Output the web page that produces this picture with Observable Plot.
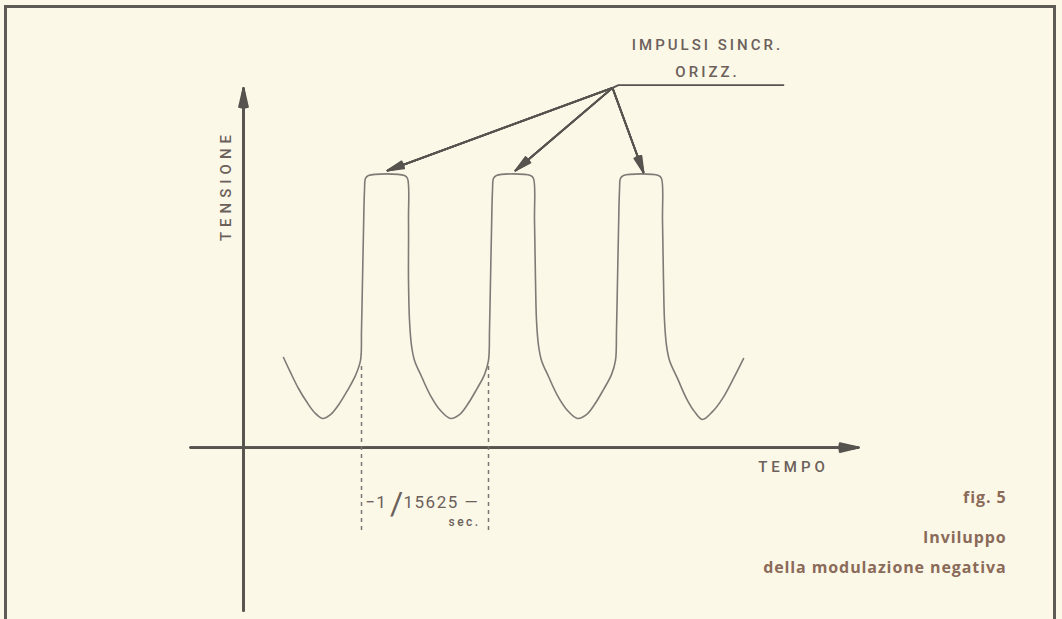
<!DOCTYPE html>
<html>
<head>
<meta charset="utf-8">
<script src="https://cdn.jsdelivr.net/npm/d3@7"></script>
<script src="https://cdn.jsdelivr.net/npm/@observablehq/plot@0.6"></script>
<style>
  html, body { margin: 0; padding: 0; background: #fcf8e8; }
  #wrap { position: relative; width: 1062px; height: 619px; overflow: hidden; }
  #frame { position: absolute; left: 4px; top: 5px; width: 1052px; height: 640px;
           border-top: 3px solid #5e5a56; border-left: 3px solid #5e5a56; border-right: 3px solid #5e5a56;
           box-sizing: border-box; pointer-events: none; }
</style>
</head>
<body>
<div id="wrap"><div id="frame"></div></div>
<script>
// time in microseconds (period 1/15625 s = 64 µs), voltage in arbitrary units (sync tip = 100)
const waveT = [20,23.5,27.5,31.5,35.5,39.5,43.5,48,52,56,58.5,59,59.5,60,60.5,61,62.5,80.5,82,82.5,82.5,83,84,85.5,89,93.5,98.5,103.5,108,112,116.5,120.5,122.5,123,123.5,124,124.5,125,126.5,143.5,145,145.5,146,146.5,147.5,149,152.5,157,162,167,171.5,175.5,180,184,186,186.5,187,187.5,188,188.5,190,207.5,209,209.5,210,210.5,211.5,213,217,221.5,225.5,229.5,234.5,239.5,245,250];
const waveV = [33.1,27.6,21.7,16.9,12.9,10.7,12.1,16.2,21.0,26.5,32.0,43.0,61.4,79.8,94.5,98.9,100,100,98.9,83.5,61.4,46.7,37.5,32.0,26.1,19.1,13.6,10.7,12.1,15.8,21.3,26.8,32.0,43.0,61.4,79.8,94.5,98.9,100,100,98.9,83.5,61.4,46.7,37.5,32.0,26.1,19.1,13.6,10.7,12.1,15.8,21.3,26.8,32.0,43.0,61.4,79.8,94.5,98.9,100,100,98.9,83.5,61.4,46.7,37.5,32.0,25.4,18.0,13.2,10.3,13.2,18.0,25.4,32.7];

// period markers (dashed), start of each line period
const periodT = [59, 122.5];
const periodTop = 31;
const periodBottom = -30.5;

// axes extents
const xAxisStart = -26.5, xAxisEnd = 307.5;
const yAxisStart = -60, yAxisEnd = 132;

// annotation: horizontal sync pulses
const annoJoinT = 184.5, annoJoinV = 132.2;
const annoLineT = [187.5, 270], annoLineV = 133.2;
const pulseTipT = [72, 136, 200];
const pulseTipV = [101.8, 101.8, 101.1];

const labelTitle1 = "IMPULSI SINCR.";
const labelTitle2 = "ORIZZ.";
const labelY = "TENSIONE";
const labelX = "TEMPO";
const periodLabelA = "−1";
const periodLabelSlash = "/";
const periodLabelB = "15625 —";
const periodUnit = "sec.";
const captionLines = ["fig. 5", "Inviluppo", "della modulazione negativa"];
const captionV = [-18.4, -33.1, -44.1];

const wave = waveT.map((t, i) => ({t, v: waveV[i]}));
const ink = "#57534f";
const waveInk = "#7f7a75";
const textInk = "#6b605a";
const capInk = "#8a6a58";
const fontA = "Roboto, DejaVu Sans, sans-serif";
const fontCap = "Open Sans, Lato, sans-serif";

const heads = [26, 18, 10, 4];
function filledArrow(data, opts) {
  return heads.map(a => Plot.arrow(data, {...opts, headAngle: a}));
}

const axesData = [
  {x1: xAxisStart, y1: 0, x2: xAxisEnd, y2: 0},
  {x1: 0, y1: yAxisStart, x2: 0, y2: yAxisEnd}
];
const annoData = pulseTipT.map((t, i) => ({x1: annoJoinT, y1: annoJoinV, x2: t, y2: pulseTipV[i]}));

const chart = Plot.plot({
  width: 1062,
  height: 619,
  margin: 0,
  style: {background: "transparent", overflow: "visible"},
  x: {domain: [-121.5, 409.5], axis: null},
  y: {domain: [-63.2, 164.3], axis: null},
  marks: [
    ...filledArrow(axesData, {x1: "x1", y1: "y1", x2: "x2", y2: "y2", stroke: ink, strokeWidth: 2.2, headLength: 13}),
    Plot.line(wave, {x: "t", y: "v", stroke: waveInk, strokeWidth: 1.6, curve: "catmull-rom"}),
    Plot.ruleX(periodT, {y1: periodBottom, y2: periodTop, stroke: "#7a7570", strokeWidth: 1.5, strokeDasharray: "4,4"}),
    Plot.line([{t: annoJoinT, v: annoJoinV}, {t: annoLineT[0], v: annoLineV}, {t: annoLineT[1], v: annoLineV}], {x: "t", y: "v", stroke: ink, strokeWidth: 1.8}),
    ...filledArrow(annoData, {x1: "x1", y1: "y1", x2: "x2", y2: "y2", stroke: ink, strokeWidth: 1.8, headLength: 14}),
    Plot.text([labelTitle1], {x: 232, y: 147.8, text: d => d, fontFamily: fontA, fontWeight: 500, fontSize: 15, fill: textInk}),
    Plot.text([labelTitle2], {x: 232, y: 137.9, text: d => d, fontFamily: fontA, fontWeight: 500, fontSize: 15, fill: textInk}),
    Plot.text([labelY], {x: -8.5, y: 96.3, text: d => d, rotate: -90, fontFamily: fontA, fontWeight: 500, fontSize: 15, fill: textInk}),
    Plot.text([labelX], {x: 275, y: -7.4, text: d => d, fontFamily: fontA, fontWeight: 500, fontSize: 15, fill: textInk}),
    Plot.text([periodLabelA], {x: 61, y: -20.2, text: d => d, textAnchor: "start", fontFamily: fontA, fontSize: 17, fill: textInk}),
    Plot.text([periodLabelSlash], {x: 76.5, y: -20.5, text: d => d, fontFamily: fontA, fontSize: 32, fill: textInk}),
    Plot.text([periodLabelB], {x: 80, y: -20.2, text: d => d, textAnchor: "start", fontFamily: fontA, fontSize: 17, fill: textInk}),
    Plot.text([periodUnit], {x: 102.5, y: -27.6, text: d => d, textAnchor: "start", fontFamily: fontA, fontWeight: 500, fontSize: 12, fill: textInk}),
    Plot.text(captionLines, {x: 381.5, y: (d, i) => captionV[i], text: d => d, textAnchor: "end", fontFamily: fontCap, fontWeight: "bold", fontSize: 16, fill: capInk})
  ]
});

// letter spacing of the stencil-style labels
const spacing = {
  [labelTitle1]: "3px", [labelTitle2]: "3px", [labelY]: "5px", [labelX]: "4px",
  [periodLabelA]: "1px", [periodLabelB]: "1.5px", [periodUnit]: "2.5px"
};
captionLines.forEach(c => spacing[c] = "0.9px");
d3.select(chart).selectAll("text").each(function() {
  const s = spacing[this.textContent];
  if (s) this.style.letterSpacing = s;
});

chart.style.position = "absolute";
chart.style.left = "0px";
chart.style.top = "0px";
document.getElementById("wrap").appendChild(chart);
</script>
</body>
</html>
